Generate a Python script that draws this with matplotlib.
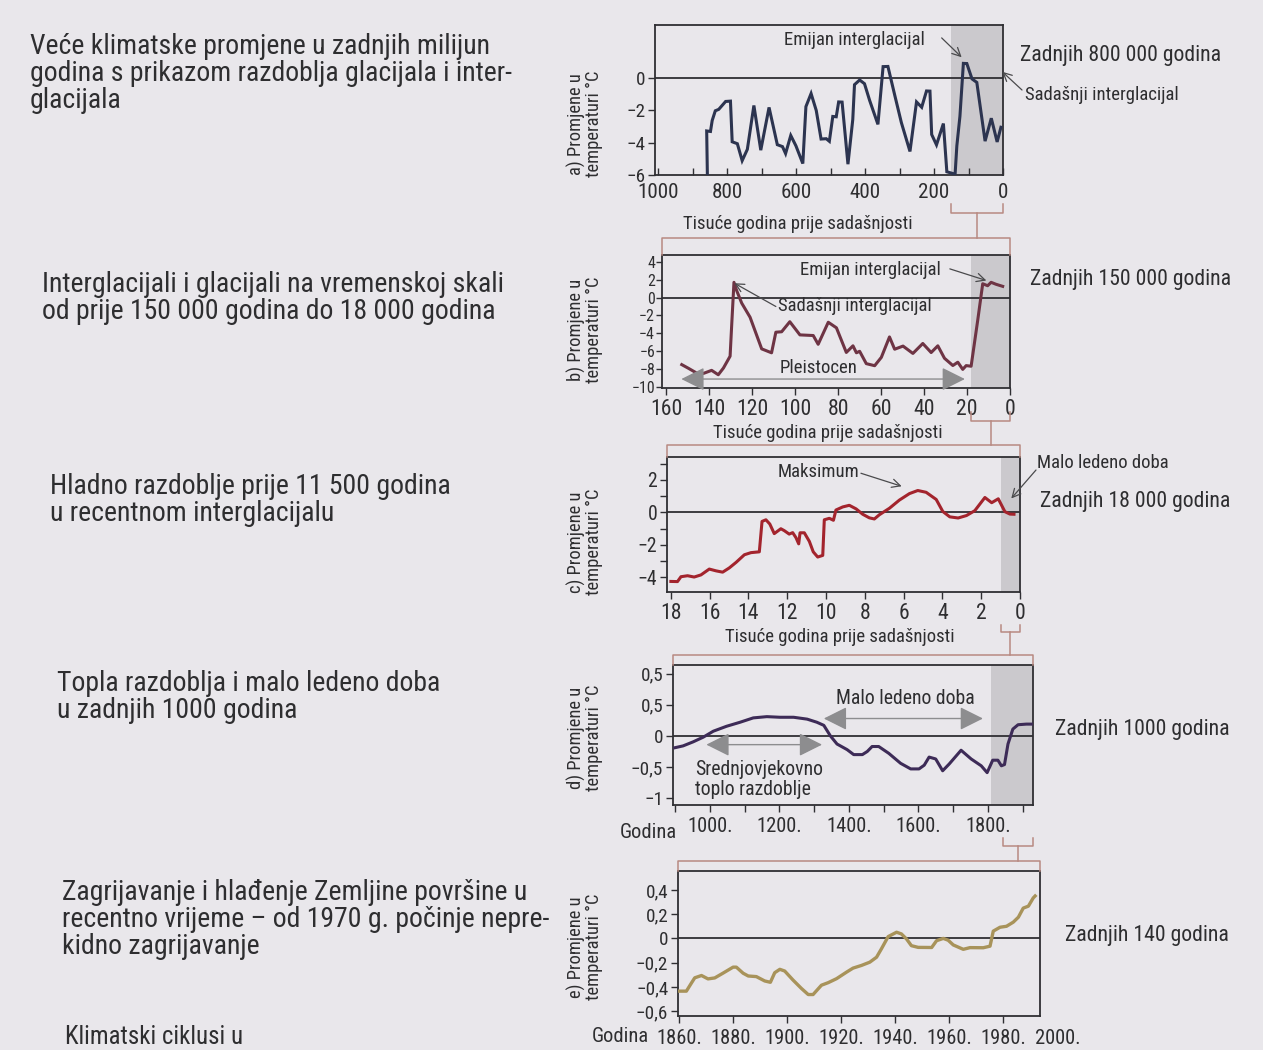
import matplotlib
matplotlib.use("Agg")
import matplotlib.pyplot as plt
import matplotlib.font_manager as fm
from matplotlib.lines import Line2D
from matplotlib.transforms import blended_transform_factory as btf

# ---------------- data ----------------
# a) last ~1 million years (thousand years before present)
a_ka = [858, 860, 849, 844, 835, 825, 805, 791, 786, 771, 757, 742, 723, 703, 679, 655, 640, 631,
        616, 601, 581, 572, 557, 542, 528, 513, 504, 494, 484, 477, 467, 450, 436, 431, 416, 402,
        387, 363, 348, 334, 314, 295, 270, 251, 236, 222, 212, 207, 193, 173, 163, 139, 134, 125,
        115, 105, 90, 76, 52, 34, 17, 6]
a_t = [-6.0, -3.27, -3.3, -2.62, -2.02, -1.93, -1.44, -1.42, -3.94, -4.06, -5.11, -4.41, -1.69,
       -4.46, -1.81, -4.12, -4.24, -4.67, -3.55, -4.19, -5.29, -1.76, -0.95, -2.0, -3.77, -3.75,
       -3.91, -2.37, -2.39, -1.47, -1.48, -5.33, -2.56, -0.4, -0.11, -0.34, -1.38, -2.86, 0.72,
       0.73, -1.07, -2.75, -4.54, -1.47, -1.8, -0.79, -0.8, -3.49, -4.13, -2.81, -5.8, -5.95,
       -4.2, -2.36, 0.92, 0.91, -0.04, -0.26, -3.9, -2.48, -3.95, -3.04]

# b) last 150 000 years
b_ka = [152.8, 149.7, 145.8, 142.7, 138.9, 135.8, 133.4, 130.3, 129.6, 128.5, 127.2, 124.9, 121,
        115.6, 111, 109, 106.3, 102.5, 97.8, 91.6, 89.3, 84.6, 80.8, 76.2, 73.1, 71.5, 70, 66.9,
        63, 59.9, 56.1, 53.7, 49.8, 45.2, 40.6, 36.7, 33.6, 30.5, 26.6, 24.3, 22, 20.4, 18.1,
        15, 12.7, 10.4, 8.8, 6.5, 3.4]
b_t = [-7.49, -7.9, -8.44, -8.47, -8.13, -8.62, -7.87, -6.55, -3.28, 1.7, 0.75, -0.62, -2.2,
       -5.73, -6.17, -3.87, -3.82, -2.7, -4.17, -4.24, -5.22, -2.76, -3.38, -6.13, -5.39, -6.17,
       -6.0, -7.38, -7.61, -6.68, -4.4, -5.77, -5.42, -6.24, -5.13, -6.14, -5.39, -6.78, -7.59,
       -7.22, -8.02, -7.6, -7.67, -2.49, 1.54, 1.32, 1.7, 1.48, 1.25]

# c) last 18 000 years
c_ka = [18, 17.66, 17.48, 17.14, 16.8, 16.45, 16.02, 15.67, 15.33, 14.99, 14.64, 14.21, 13.87,
        13.44, 13.3, 13.1, 12.9, 12.67, 12.33, 12.15, 11.9, 11.72, 11.55, 11.41, 11.34, 11.12,
        10.86, 10.66, 10.43, 10.17, 10.09, 9.83, 9.62, 9.49, 9.14, 8.8, 8.45, 8.11, 7.77, 7.51,
        7.25, 6.73, 6.22, 5.7, 5.27, 4.84, 4.32, 3.98, 3.62, 3.19, 2.76, 2.33, 1.81, 1.46, 1.12,
        0.78, 0.52, 0.31]
c_t = [-4.25, -4.26, -3.96, -3.9, -3.98, -3.85, -3.49, -3.6, -3.68, -3.42, -3.08, -2.61, -2.48,
       -2.43, -0.56, -0.46, -0.72, -1.31, -1.01, -1.13, -1.34, -1.25, -1.56, -1.94, -1.26, -1.26,
       -1.79, -2.43, -2.75, -2.65, -0.46, -0.37, -0.49, 0.14, 0.33, 0.43, 0.21, -0.12, -0.34,
       -0.41, -0.15, 0.25, 0.75, 1.15, 1.34, 1.23, 0.79, 0.05, -0.28, -0.35, -0.2, 0.1, 0.91,
       0.59, 0.83, 0.04, -0.11, -0.12]

# d) last 1000 years
d_yr = [899, 923, 952, 981, 1010, 1048, 1087, 1125, 1164, 1202, 1241, 1280, 1308, 1328, 1347,
        1366, 1395, 1414, 1439, 1453, 1467, 1486, 1515, 1549, 1578, 1602, 1617, 1631, 1650, 1670,
        1689, 1723, 1752, 1781, 1798, 1814, 1829, 1839, 1848, 1858, 1872, 1887, 1911, 1925]
d_t = [-0.19, -0.16, -0.095, -0.02, 0.076, 0.155, 0.22, 0.29, 0.31, 0.30, 0.30, 0.27, 0.22, 0.17,
       0.0, -0.13, -0.22, -0.3, -0.3, -0.25, -0.17, -0.17, -0.28, -0.44, -0.53, -0.53, -0.47,
       -0.34, -0.37, -0.56, -0.45, -0.23, -0.37, -0.48, -0.59, -0.39, -0.39, -0.48, -0.46, -0.13,
       0.11, 0.18, 0.19, 0.19]

# e) last 140 years
e_yr = [1860, 1862.7, 1864.6, 1865.8, 1868.3, 1870.7, 1873.2, 1876.3, 1880, 1881.2, 1883.7,
        1885.6, 1888.6, 1891.7, 1893.8, 1895.4, 1897.3, 1899.1, 1902.2, 1905.3, 1907.8, 1909.6,
        1912.7, 1915.2, 1918.3, 1922, 1924.4, 1927.5, 1930.6, 1933.1, 1934.9, 1937.4, 1940.5,
        1942.3, 1944.2, 1946, 1948.5, 1953.5, 1955.3, 1957.8, 1959.6, 1961.5, 1965.2, 1967.7,
        1972.6, 1975.1, 1976.3, 1978.8, 1981.2, 1983.7, 1985.6, 1987.4, 1989.3, 1991.1, 1991.8]
e_t = [-0.435, -0.435, -0.367, -0.325, -0.306, -0.334, -0.326, -0.286, -0.237, -0.237, -0.287,
       -0.31, -0.315, -0.351, -0.362, -0.283, -0.255, -0.269, -0.344, -0.413, -0.463, -0.463,
       -0.386, -0.365, -0.332, -0.278, -0.245, -0.223, -0.196, -0.155, -0.086, 0.015, 0.051,
       0.037, -0.005, -0.06, -0.074, -0.075, -0.019, 0.0, -0.015, -0.054, -0.09, -0.076, -0.077,
       -0.064, 0.06, 0.092, 0.1, 0.134, 0.175, 0.25, 0.266, 0.334, 0.35]

# tick labels
a_xticks = [1000, 800, 600, 400, 200, 0]
a_yticks = [0, -2, -4, -6]
a_ylabels = ["0", "−2", "−4", "−6"]
b_xticks = [160, 140, 120, 100, 80, 60, 40, 20, 0]
b_yticks = [4, 2, 0, -2, -4, -6, -8, -10]
b_ylabels = ["4", "2", "0", "−2", "−4", "−6", "−8", "−10"]
c_xticks = [18, 16, 14, 12, 10, 8, 6, 4, 2, 0]
c_yticks = [2, 0, -2, -4]
c_ylabels = ["2", "0", "−2", "−4"]
d_xticks = [1000, 1200, 1400, 1600, 1800]
d_xlabels = ["1000.", "1200.", "1400.", "1600.", "1800."]
d_yticks = [1, 0.5, 0, -0.5, -1]
d_ylabels = ["0,5", "0,5", "0", "−0,5", "−1"]
e_xticks = [1860, 1880, 1900, 1920, 1940, 1960, 1980]
e_xlabels = ["1860.", "1880.", "1900.", "1920.", "1940.", "1960.", "1980."]
e_yticks = [0.4, 0.2, 0, -0.2, -0.4, -0.6]
e_ylabels = ["0,4", "0,2", "0", "−0,2", "−0,4", "−0,6"]

# ---------------- font ----------------
names = {f.name for f in fm.fontManager.ttflist}
stretch = "normal"
if "Liberation Sans Narrow" in names:
    FAM, SC = "Liberation Sans Narrow", 1.0
elif "Roboto Condensed" in names:
    FAM, SC = "Roboto Condensed", 0.95
elif any(f.name == "DejaVu Sans" and "condensed" in str(f.stretch) for f in fm.fontManager.ttflist):
    FAM, SC, stretch = "DejaVu Sans", 0.85, "condensed"
else:
    FAM, SC = "Liberation Sans", 0.82
plt.rcParams["font.family"] = [FAM, "DejaVu Sans"]
plt.rcParams["font.stretch"] = stretch

BG = "#e9e7eb"
TXT = "#2e2e30"
FR = "#2f2f33"
RED = "#b88a82"
GR = "#8d8d8f"
SHADE = "#cbc9cd"

W, H = 1263, 1050
fig = plt.figure(figsize=(W / 100, H / 100), dpi=100, facecolor=BG)


def add_ax(x0, x1, top, bottom):
    ax = fig.add_axes([x0 / W, 1 - bottom / H, (x1 - x0) / W, (bottom - top) / H])
    ax.set_facecolor(BG)
    for s in ax.spines.values():
        s.set_color(FR)
        s.set_linewidth(1.3)
    ax.tick_params(colors=FR, labelcolor=TXT, length=5, width=1.0, labelsize=14.5 * SC, pad=2)
    ax.tick_params(which="minor", colors=FR, length=5, width=1.0)
    return ax


def ftext(x, y, s, **kw):
    kw.setdefault("color", TXT)
    return fig.text(x / W, 1 - y / H, s, **kw)


def flines(pts, **kw):
    xs = [p[0] / W for p in pts]
    ys = [1 - p[1] / H for p in pts]
    fig.add_artist(Line2D(xs, ys, transform=fig.transFigure, **kw))


def data_px(ax, v):
    return ax.transData.transform((v, 0))[0]


def dbl_arrow(ax, x0, x1, y):
    ax.annotate("", xy=(x1, y), xytext=(x0, y),
                arrowprops=dict(arrowstyle="<|-|>,head_length=0.9,head_width=0.45",
                                color=GR, lw=1.0, mutation_scale=16, shrinkA=0, shrinkB=0))


def ptr(ax, start, tip, coords="data"):
    ax.annotate("", xy=tip, xytext=start, xycoords="data", textcoords=coords,
                arrowprops=dict(arrowstyle="->,head_length=0.6,head_width=0.3",
                                color="#4a4a4c", lw=0.9, shrinkA=0, shrinkB=0))


AN = 14.2 * SC   # annotation size
XL = 14.2 * SC   # x-axis title size
YL = 14.0 * SC   # y-axis title size
RS = 16.5 * SC   # right labels
CS = 21.0 * SC   # captions

# ---------------- panel geometry (pixels, top-origin) ----------------
geo = {
    "a": (655, 1003, 25, 175, None),
    "b": (662, 1010, 255, 388, 238),
    "c": (667, 1020, 457, 592, 445),
    "d": (673, 1033, 665, 805, 655),
    "e": (678, 1040, 871, 1016, 861),
}
axs = {k: add_ax(*v[:4]) for k, v in geo.items()}

# ---- a ----
ax = axs["a"]
ax.set_xlim(1010, 0)
ax.set_ylim(-6, 3.3)
ax.axvspan(150, 0, color=SHADE, lw=0, zorder=0)
ax.axhline(0, color=FR, lw=1.3, zorder=1)
ax.plot(a_ka, a_t, color="#2c3450", lw=2.2, zorder=3, solid_joinstyle="miter")
ax.set_xticks(a_xticks, [str(v) for v in a_xticks])
ax.set_xticks([900, 700, 500, 300, 100], minor=True)
ax.set_yticks(a_yticks, a_ylabels)
ax.tick_params(axis="x", which="both", direction="in", labelsize=16 * SC, pad=6)
ax.text(430, 2.4, "Emijan interglacijal", ha="center", va="center", fontsize=AN, color=TXT)
ptr(ax, (178, 2.5), (120, 1.3))

# ---- b ----
ax = axs["b"]
ax.set_xlim(162, 0)
ax.set_ylim(-10.1, 4.75)
ax.axvspan(18, 0, color=SHADE, lw=0, zorder=0)
ax.axhline(0, color=FR, lw=1.3, zorder=1)
ax.plot(b_ka, b_t, color="#6e3444", lw=2.2, zorder=3)
ax.set_xticks(b_xticks, [str(v) for v in b_xticks])
ax.set_yticks(b_yticks, b_ylabels)
ax.tick_params(axis="x", labelsize=16.5 * SC, pad=3)
ax.tick_params(axis="y", labelsize=12 * SC, pad=1, length=4)
ax.text(65, 3.1, "Emijan interglacijal", ha="center", va="center", fontsize=AN, color=TXT)
ptr(ax, (28, 3.2), (11, 1.9))
ax.text(72, -1.0, "Sadašnji interglacijal", ha="center", va="center", fontsize=AN, color=TXT)
ptr(ax, (109, -1.0), (128.3, 1.6))
ax.text(89, -7.85, "Pleistocen", ha="center", va="center", fontsize=AN, color=TXT)
dbl_arrow(ax, 153, 21, -9.1)

# ---- c ----
ax = axs["c"]
ax.set_xlim(18.2, 0)
ax.set_ylim(-4.9, 3.4)
ax.axvspan(1.0, 0, color=SHADE, lw=0, zorder=0)
ax.axhline(0, color=FR, lw=1.3, zorder=1)
ax.plot(c_ka, c_t, color="#a3242d", lw=2.2, zorder=3)
ax.set_xticks(c_xticks, [str(v) for v in c_xticks])
ax.set_yticks(c_yticks, c_ylabels)
ax.set_yticks([3, 1, -1, -3], minor=True)
ax.tick_params(axis="x", labelsize=16.5 * SC, pad=3)
ax.tick_params(axis="y", labelsize=15 * SC)
ax.text(10.4, 2.45, "Maksimum", ha="center", va="center", fontsize=AN, color=TXT)
ptr(ax, (8.2, 2.4), (6.1, 1.6))

# ---- d ----
ax = axs["d"]
ax.set_xlim(894, 1930)
ax.set_ylim(-1.11, 1.14)
ax.axvspan(1810, 1930, color=SHADE, lw=0, zorder=0)
ax.axhline(0, color=FR, lw=1.3, zorder=1)
ax.plot(d_yr, d_t, color="#3d2b57", lw=2.2, zorder=3)
ax.set_xticks(d_xticks, d_xlabels)
ax.set_xticks([900, 1100, 1300, 1500, 1700, 1900], minor=True)
ax.set_yticks(d_yticks, d_ylabels)
ax.tick_params(axis="x", labelsize=15.5 * SC, pad=4)
ax.tick_params(axis="y", labelsize=14.5 * SC)
ax.text(1564, 0.6, "Malo ledeno doba", ha="center", va="center", fontsize=15 * SC, color=TXT)
dbl_arrow(ax, 1328, 1786, 0.28)
ax.text(957, -0.7, "Srednjovjekovno\ntoplo razdoblje", ha="left", va="center",
        fontsize=15 * SC, color=TXT, linespacing=1.05)
dbl_arrow(ax, 990, 1323, -0.14)

# ---- e ----
ax = axs["e"]
ax.set_xlim(1859.6, 1993.6)
ax.set_ylim(-0.64, 0.556)
ax.axhline(0, color=FR, lw=1.3, zorder=1)
ax.plot(e_yr, e_t, color="#a8935a", lw=2.4, zorder=3)
ax.set_xticks(e_xticks, e_xlabels)
ax.set_yticks(e_yticks, e_ylabels)
ax.tick_params(axis="x", labelsize=15.5 * SC, pad=4)
ax.tick_params(axis="y", labelsize=14.5 * SC)
ax.annotate("2000.", xy=(2000, 0), xycoords=btf(ax.transData, ax.transAxes),
            xytext=(0, -(5 + 4) * 1.0), textcoords="offset points", ha="center", va="top",
            fontsize=15.5 * SC, color=TXT, annotation_clip=False)

# ---------------- connectors (red boxes + brackets) ----------------
order = ["a", "b", "c", "d", "e"]
bracket = {"a": (150, 0, 204, 213), "b": (18, 0, 412, 421), "c": (1.0, 0, 625, 632),
           "d": (1845, 1930, 838, 846)}
for i, k in enumerate(order[:-1]):
    nk = order[i + 1]
    x0n, x1n, topn, _, redn = geo[nk]
    flines([(x0n, topn), (x0n, redn), (x1n, redn), (x1n, topn)], color=RED, lw=1.1)
    r0, r1, yt, yb = bracket[k]
    xa, xb = data_px(axs[k], r0), data_px(axs[k], r1)
    flines([(xa, yt), (xa, yb), (xb, yb), (xb, yt)], color=RED, lw=1.1)
    xm = (xa + xb) / 2
    flines([(xm, yb), (xm, redn)], color=RED, lw=1.1)

# ---------------- axis titles ----------------
xl = "Tisuće godina prije sadašnjosti"
ftext(798, 224, xl, ha="center", va="center", fontsize=XL)
ftext(828, 433, xl, ha="center", va="center", fontsize=XL)
ftext(840, 637, xl, ha="center", va="center", fontsize=XL)
ftext(648, 832, "Godina", ha="center", va="center", fontsize=15.5 * SC)
ftext(620, 1036, "Godina", ha="center", va="center", fontsize=15.5 * SC)

for lab, yc in [("a", 124), ("b", 330), ("c", 542), ("d", 738), ("e", 947)]:
    ftext(585, yc, f"{lab}) Promjene u\ntemperaturi °C", rotation=90, ha="center", va="center",
          fontsize=YL, linespacing=0.95, multialignment="center")

# ---------------- right-side labels ----------------
ftext(1020, 55, "Zadnjih 800 000 godina", ha="left", va="center", fontsize=RS)
ftext(1025, 95, "Sadašnji interglacijal", ha="left", va="center", fontsize=AN)
ptr(axs["a"], (1022, H - 90), (2, 0.4), coords="figure pixels")
ftext(1030, 280, "Zadnjih 150 000 godina", ha="left", va="center", fontsize=RS)
ftext(1037, 463, "Malo ledeno doba", ha="left", va="center", fontsize=AN)
ptr(axs["c"], (1036, H - 470), (0.45, 0.85), coords="figure pixels")
ftext(1040, 502, "Zadnjih 18 000 godina", ha="left", va="center", fontsize=RS)
ftext(1055, 730, "Zadnjih 1000 godina", ha="left", va="center", fontsize=RS)
ftext(1065, 935, "Zadnjih 140 godina", ha="left", va="center", fontsize=RS)

# ---------------- left captions ----------------
ftext(30, 33, "Veće klimatske promjene u zadnjih milijun\ngodina s prikazom razdoblja glacijala i inter-\nglacijala",
      ha="left", va="top", fontsize=CS, linespacing=1.0)
ftext(42, 271, "Interglacijali i glacijali na vremenskoj skali\nod prije 150 000 godina do 18 000 godina",
      ha="left", va="top", fontsize=CS, linespacing=1.0)
ftext(50, 473, "Hladno razdoblje prije 11 500 godina\nu recentnom interglacijalu",
      ha="left", va="top", fontsize=CS, linespacing=1.0)
ftext(57, 670, "Topla razdoblja i malo ledeno doba\nu zadnjih 1000 godina",
      ha="left", va="top", fontsize=CS, linespacing=1.0)
ftext(62, 879, "Zagrijavanje i hlađenje Zemljine površine u\nrecentno vrijeme – od 1970 g. počinje nepre-\nkidno zagrijavanje",
      ha="left", va="top", fontsize=CS, linespacing=1.0)
ftext(65, 1049, "Klimatski ciklusi u", ha="left", va="bottom", fontsize=CS * 0.9)

fig.savefig("out.png", dpi=100, facecolor=BG)
